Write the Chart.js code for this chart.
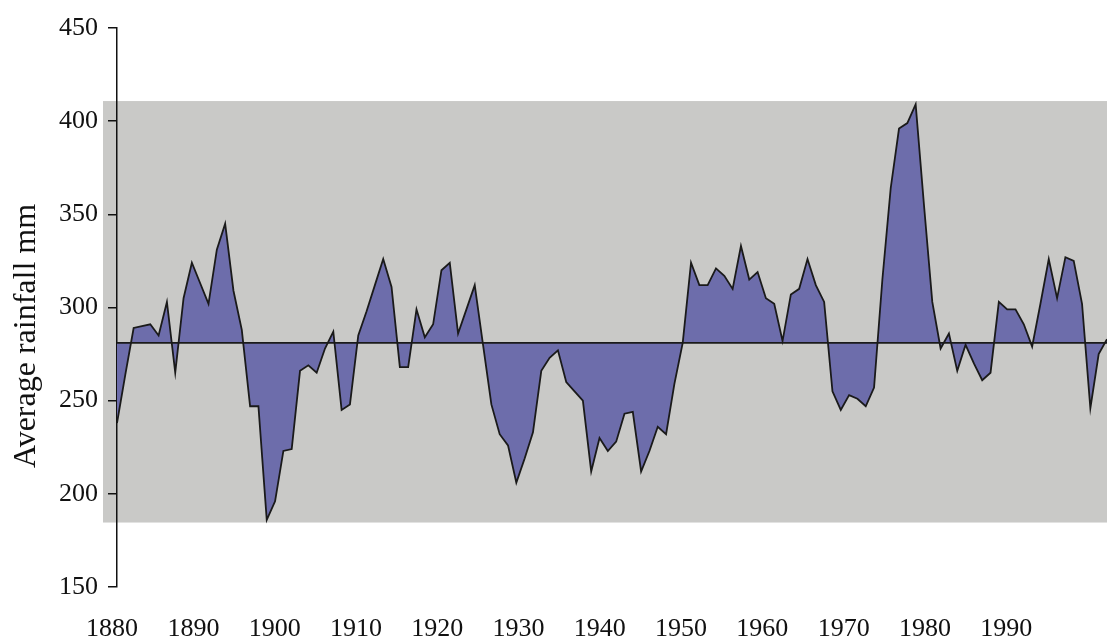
<!DOCTYPE html>
<html><head><meta charset="utf-8">
<script src="https://cdn.jsdelivr.net/npm/chart.js@4.4.1/dist/chart.umd.min.js"></script>
<style>html,body{margin:0;padding:0;background:#fff}#wrap{width:1107px;height:640px;position:relative}canvas{display:block}</style>
</head><body><div id="wrap"><canvas id="c" width="1107" height="640" style="width:1107px;height:640px"></canvas></div>
<script>
const years = [1880,1881,1882,1883,1884,1885,1886,1887,1888,1889,
1890,1891,1892,1893,1894,1895,1896,1897,1898,1899,
1900,1901,1902,1903,1904,1905,1906,1907,1908,1909,
1910,1911,1912,1913,1914,1915,1916,1917,1918,1919,
1920,1921,1922,1923,1924,1925,1926,1927,1928,1929,
1930,1931,1932,1933,1934,1935,1936,1937,1938,1939,
1940,1941,1942,1943,1944,1945,1946,1947,1948,1949,
1950,1951,1952,1953,1954,1955,1956,1957,1958,1959,
1960,1961,1962,1963,1964,1965,1966,1967,1968,1969,
1970,1971,1972,1973,1974,1975,1976,1977,1978,1979,
1980,1981,1982,1983,1984,1985,1986,1987,1988,1989,
1990,1991,1992,1993,1994,1995,1996,1997,1998,1999];
const rainfall = [238,264,289,290,291,285,303,265,305,324,
313,302,331,345,309,288,247,247,186,196,
223,224,266,269,265,278,287,245,248,285,
298,312,326,311,268,268,299,284,291,320,
324,286,299,312,280,248,232,226,206,219,
233,266,273,277,260,255,250,212,230,223,
228,243,244,212,223,236,232,259,281,324,
312,312,321,317,310,333,315,319,305,302,
282,307,310,326,312,303,255,245,253,251,
247,257,315,364,396,399,409,355,303,278,
286,266,280,270,261,265,303,299,299,291,
279,302,326,305,327,325,302,246,275,283];
const meanRainfall = 281;
const yTickValues = [150,200,250,300,350,400,450];
const xTickLabels = [1880,1890,1900,1910,1920,1930,1940,1950,1960,1970,1980,1990];
const bandRange = [184.6, 410.8];
const yTitle = 'Average rainfall mm';

const serif = "'Liberation Serif','Times New Roman',serif";

const bandPlugin = {
  id: 'band',
  beforeDraw(chart) {
    const {ctx, chartArea, scales} = chart;
    const t = scales.y.getPixelForValue(bandRange[1]);
    const b = scales.y.getPixelForValue(bandRange[0]);
    ctx.save();
    ctx.fillStyle = '#c9c9c7';
    ctx.fillRect(chartArea.left - 14, t, chartArea.right - chartArea.left + 14, b - t);
    ctx.restore();
  }
};
const titlePlugin = {
  id: 'ytitle',
  afterDraw(chart) {
    const {ctx} = chart;
    ctx.save();
    ctx.translate(27, 336);
    ctx.rotate(-Math.PI / 2);
    ctx.font = "32px " + serif;
    ctx.fillStyle = '#111';
    ctx.textAlign = 'center';
    ctx.textBaseline = 'middle';
    ctx.fillText(yTitle, 0, 0);
    ctx.restore();
  }
};

new Chart(document.getElementById('c'), {
  type: 'line',
  data: {
    datasets: [
      {
        label: 'mean',
        data: [{x: years[0], y: meanRainfall}, {x: years[years.length - 1], y: meanRainfall}],
        borderColor: '#1a1a1a', borderWidth: 1.6, pointRadius: 0, fill: false,
        xAxisID: 'x', yAxisID: 'y'
      },
      {
        label: 'rainfall',
        data: years.map((yr, i) => ({x: yr, y: rainfall[i]})),
        borderColor: '#1a1a1a', borderWidth: 1.8, backgroundColor: '#6d6dab',
        fill: {value: meanRainfall}, pointRadius: 0, tension: 0,
        xAxisID: 'x', yAxisID: 'y'
      }
    ]
  },
  options: {
    responsive: false,
    animation: false,
    maintainAspectRatio: false,
    devicePixelRatio: 1,
    layout: {padding: {top: 28, right: 0, bottom: 0, left: 0}},
    plugins: {legend: {display: false}, tooltip: {enabled: false}},
    scales: {
      x: {type: 'linear', min: 1880, max: 1999, display: false},
      xt: {
        type: 'linear', position: 'bottom', min: 1880.6, max: 2002.4, display: true,
        grid: {display: false, drawTicks: false}, border: {display: false},
        afterBuildTicks: s => { s.ticks = xTickLabels.map(v => ({value: v})); },
        afterFit: s => { s.height = 53; },
        ticks: {font: {family: serif, size: 26}, color: '#111', padding: 27, maxRotation: 0, autoSkip: false,
          callback: v => String(v)}
      },
      y: {
        type: 'linear', position: 'left', min: 150, max: 450,
        afterBuildTicks: s => { s.ticks = yTickValues.map(v => ({value: v})); },
        afterFit: s => { s.width = 117; },
        grid: {drawOnChartArea: false, drawTicks: true, tickLength: 9, color: '#111', lineWidth: 1.5},
        border: {display: true, color: '#111', width: 1.5},
        ticks: {font: {family: serif, size: 26}, color: '#111', padding: 10, callback: v => String(v)}
      }
    }
  },
  plugins: [bandPlugin, titlePlugin]
});
</script>
</body></html>
